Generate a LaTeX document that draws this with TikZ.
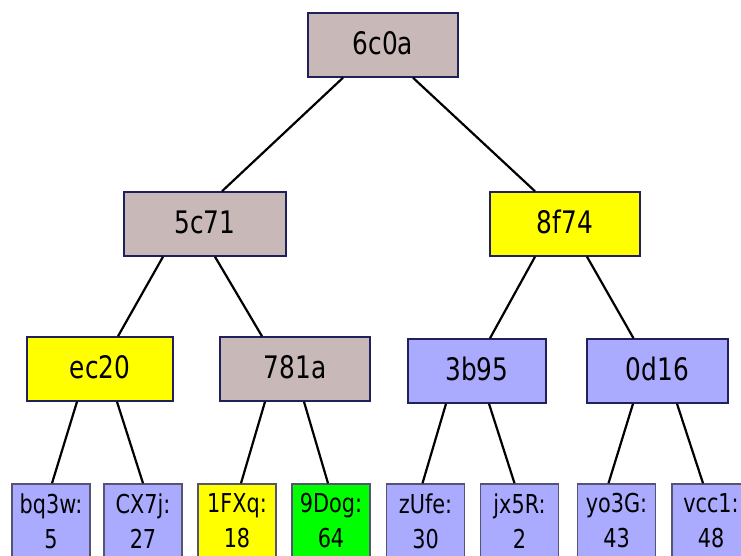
\documentclass[tikz,border=0pt]{standalone}
\usepackage{fontspec}
\setmainfont{DejaVu Sans}[FakeStretch=0.8]
\definecolor{hashgray}{RGB}{200,184,184}
\definecolor{keyblue}{RGB}{170,170,255}
\definecolor{pathyellow}{RGB}{255,255,0}
\definecolor{proofgreen}{RGB}{0,255,0}
\definecolor{navyline}{RGB}{32,32,90}
\definecolor{leafline}{RGB}{85,85,115}

\begin{document}
\begin{tikzpicture}[x=1pt,y=-1pt,
  inner node/.style={rectangle,draw=navyline,line width=1.5pt,minimum height=64pt,text depth=4pt,font=\fontsize{31}{36}\selectfont},
  leaf node/.style={rectangle,draw=leafline,line width=1.5pt,minimum width=78pt,minimum height=74pt,align=center,inner sep=1pt,font=\fontsize{26}{35}\selectfont}]
  \path[use as bounding box,clip] (0,0) rectangle (741,556);
  % hash nodes
  \node[inner node,fill=hashgray,minimum width=150pt] (1) at (383,45) {6c0a};
  \node[inner node,fill=hashgray,minimum width=162pt] (2) at (205,224) {5c71};
  \node[inner node,fill=pathyellow,minimum width=150pt] (3) at (565,224) {8f74};
  \node[inner node,fill=pathyellow,minimum width=146pt] (4) at (100,369) {ec20};
  \node[inner node,fill=hashgray,minimum width=150pt] (5) at (295,369) {781a};
  \node[inner node,fill=keyblue,minimum width=138pt] (6) at (477,371) {3b95};
  \node[inner node,fill=keyblue,minimum width=141pt] (7) at (657.5,371) {0d16};
  % leaves
  \node[leaf node,fill=keyblue] (8) at (51,521) {bq3w:\\5};
  \node[leaf node,fill=keyblue] (9) at (143,521) {CX7j:\\27};
  \node[leaf node,fill=pathyellow] (10) at (237,521) {1FXq:\\18};
  \node[leaf node,fill=proofgreen] (11) at (331,521) {9Dog:\\64};
  \node[leaf node,fill=keyblue] (12) at (425.5,521) {zUfe:\\30};
  \node[leaf node,fill=keyblue] (13) at (519.5,521) {jx5R:\\2};
  \node[leaf node,fill=keyblue] (14) at (616.5,521) {yo3G:\\43};
  \node[leaf node,fill=keyblue] (15) at (711,521) {vcc1:\\48};
  \path[line width=2.2pt]
    ([xshift=-40pt]1.south) edge ([xshift=17pt]2.north)
    ([xshift=30pt]1.south) edge ([xshift=-30pt]3.north)
    ([xshift=-42pt]2.south) edge ([xshift=18pt]4.north)
    ([xshift=10pt]2.south) edge ([xshift=-33pt]5.north)
    ([xshift=-30pt]3.south) edge ([xshift=13pt]6.north)
    ([xshift=22pt]3.south) edge ([xshift=-24pt]7.north)
    ([xshift=-23pt]4.south) edge ([xshift=1pt]8.north)
    ([xshift=17pt]4.south) edge (9.north)
    ([xshift=-30pt]5.south) edge ([xshift=4pt]10.north)
    ([xshift=9pt]5.south) edge ([xshift=-3pt]11.north)
    ([xshift=-31pt]6.south) edge ([xshift=-3pt]12.north)
    ([xshift=12pt]6.south) edge ([xshift=-5pt]13.north)
    ([xshift=-24.5pt]7.south) edge ([xshift=-8pt]14.north)
    ([xshift=19.5pt]7.south) edge ([xshift=-8pt]15.north);
\end{tikzpicture}
\end{document}
